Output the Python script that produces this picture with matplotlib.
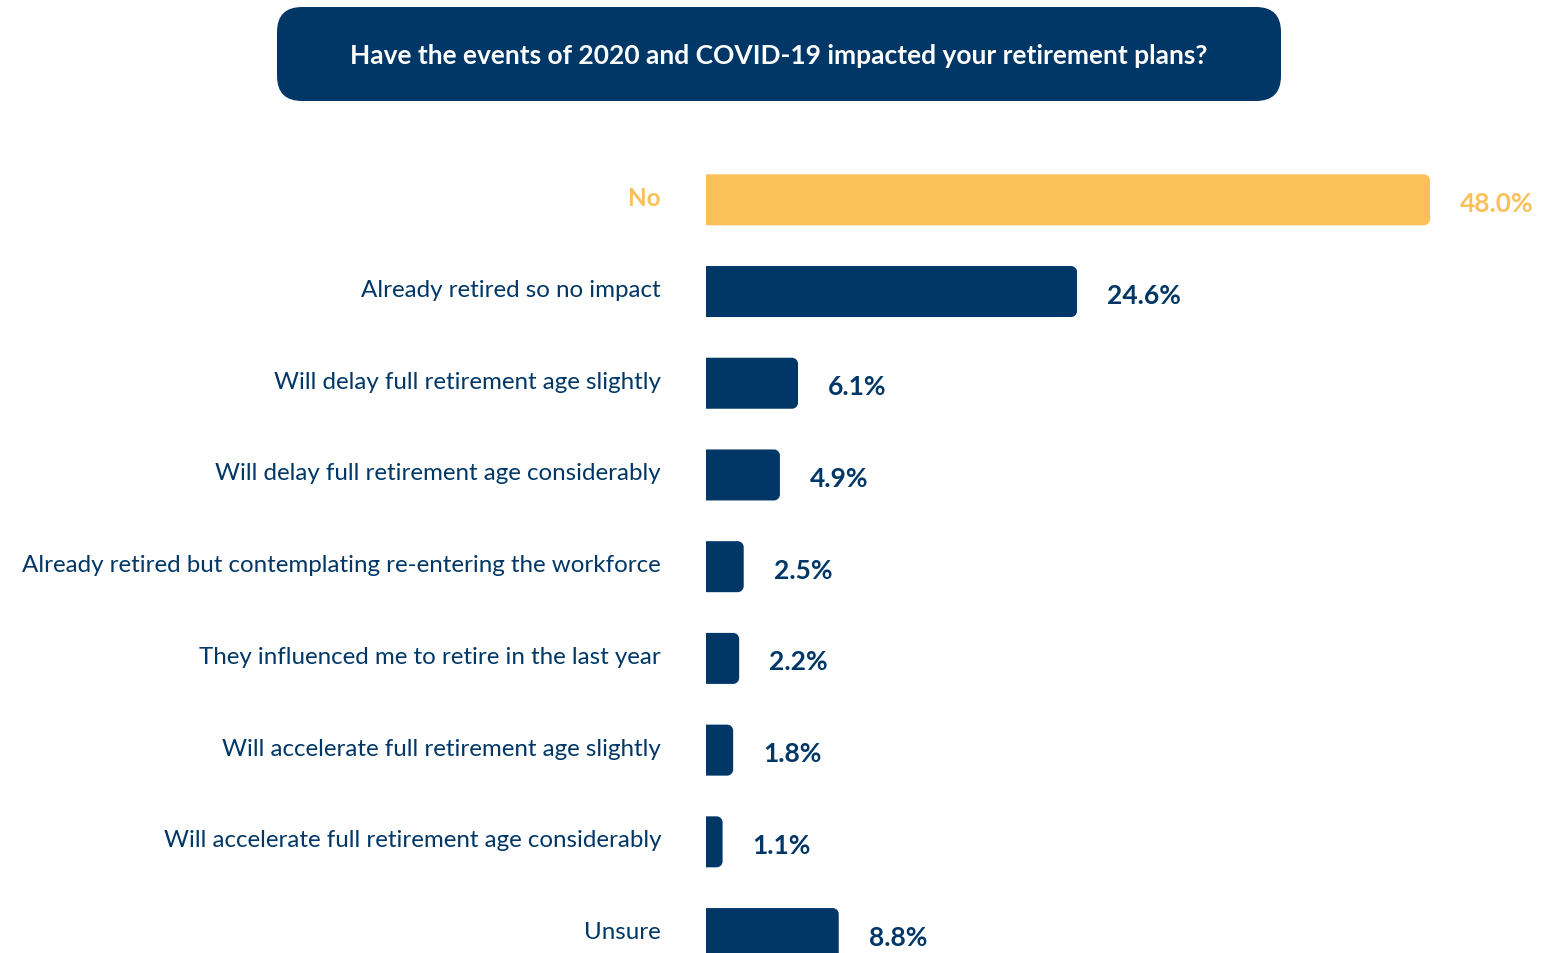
import matplotlib.pyplot as plt
from matplotlib.patches import FancyBboxPatch, PathPatch
from matplotlib.path import Path

plt.rcParams['font.family'] = ['Lato', 'DejaVu Sans']

categories = ['No', 'Already retired so no impact', 'Will delay full retirement age slightly',
              'Will delay full retirement age considerably',
              'Already retired but contemplating re-entering the workforce',
              'They influenced me to retire in the last year',
              'Will accelerate full retirement age slightly',
              'Will accelerate full retirement age considerably', 'Unsure']
values = [48.0, 24.6, 6.1, 4.9, 2.5, 2.2, 1.8, 1.1, 8.8]
title = 'Have the events of 2020 and COVID-19 impacted your retirement plans?'

navy = '#003767'
gold = '#FCC05A'
colors = [gold] + [navy] * (len(values) - 1)

W, H = 1541, 954
fig = plt.figure(figsize=(W / 100, H / 100), dpi=100)

# axes placed so that 0% sits at x=706px and 48% at x=1430px
px_per_pct = (1430 - 706) / 48.0
row_px = 91.72
first_row = 200.8
ax = fig.add_axes([706 / W, 0, 1 - 706 / W, (H - 100) / H])
ax.set_xlim(0, (W - 706) / px_per_pct)
ax.set_ylim((H - first_row) / row_px, -(first_row - 100) / row_px)
ax.axis('off')

bar_h = 51 / row_px
rx_full = 6 / px_per_pct
ry = 6 / row_px
k = 0.5523


def right_rounded(x, yc, h, rx, ry):
    # bar with square left end and rounded right corners
    y0, y1 = yc - h / 2, yc + h / 2
    verts = [(0, y0), (x - rx, y0),
             (x - rx + k * rx, y0), (x, y0 + ry - k * ry), (x, y0 + ry),
             (x, y1 - ry),
             (x, y1 - ry + k * ry), (x - rx + k * rx, y1), (x - rx, y1),
             (0, y1), (0, y0)]
    codes = [Path.MOVETO, Path.LINETO,
             Path.CURVE4, Path.CURVE4, Path.CURVE4,
             Path.LINETO,
             Path.CURVE4, Path.CURVE4, Path.CURVE4,
             Path.LINETO, Path.CLOSEPOLY]
    return Path(verts, codes)


for i, (cat, v, c) in enumerate(zip(categories, values, colors)):
    path = right_rounded(v, i, bar_h, min(rx_full, v / 2), ry)
    ax.add_patch(PathPatch(path, fc=c, ec='none', clip_on=False))
    ax.annotate(cat, xy=(0, i), xytext=(-45, 2), textcoords='offset pixels',
                ha='right', va='center', fontsize=17.4, color=c,
                fontweight='bold' if i == 0 else 'normal', annotation_clip=False)
    ax.annotate(f'{v:.1f}%', xy=(v, i), xytext=(30, -3), textcoords='offset pixels',
                ha='left', va='center', fontsize=19, color=c, fontweight='bold',
                annotation_clip=False)

# title banner
tb = FancyBboxPatch((277 / W, (H - 102) / H), 1004 / W, 94 / H,
                    boxstyle=f'round,pad=0,rounding_size={25 / W}',
                    mutation_aspect=W / H, transform=fig.transFigure,
                    fc=navy, ec='none')
fig.patches.append(tb)
fig.text(779 / W, (H - 56) / H, title, ha='center', va='center', color='white',
         fontsize=19, fontweight='bold')

fig.savefig('out.png', dpi=100)
